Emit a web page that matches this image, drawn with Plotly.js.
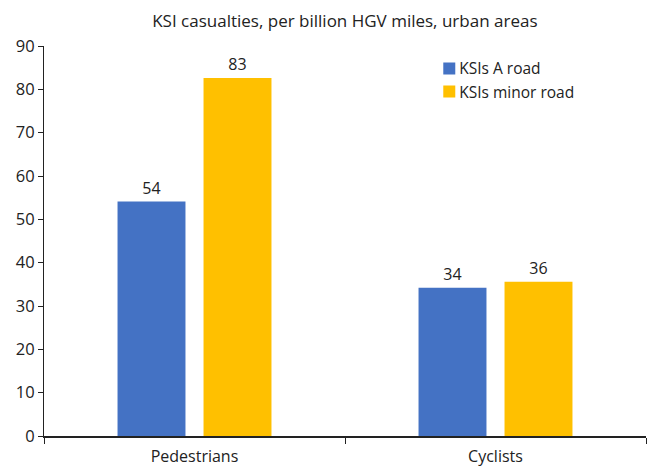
<!DOCTYPE html>
<html>
<head>
<meta charset="utf-8">
<script src="https://cdn.plot.ly/plotly-3.0.1.min.js"></script>
<style>html,body{margin:0;padding:0;background:#fff;}#chart{width:647px;height:468px;}</style>
</head>
<body>
<div id="chart"></div>
<script>
var categories = ["Pedestrians", "Cyclists"];
var seriesNames = ["KSIs A road", "KSIs minor road"];
var aRoad = [54.1, 34.2];
var minorRoad = [82.6, 35.6];
var yTicks = [0, 10, 20, 30, 40, 50, 60, 70, 80, 90];

var fam = "Open Sans, Noto Sans, sans-serif";
var font = {family: fam, color: "#222", size: 16};

var traces = [
  {type: "bar", name: seriesNames[0], x: categories, y: aRoad,
   marker: {color: "#4472C4"}, text: aRoad, texttemplate: "%{y:.0f}",
   textposition: "outside", cliponaxis: false, textfont: {family: fam, size: 16, color: "#222"}},
  {type: "bar", name: seriesNames[1], x: categories, y: minorRoad,
   marker: {color: "#FFC000"}, text: minorRoad, texttemplate: "%{y:.0f}",
   textposition: "outside", cliponaxis: false, textfont: {family: fam, size: 16, color: "#222"}}
];

var layout = {
  width: 647, height: 468,
  margin: {l: 44, r: 1, t: 46, b: 32},
  paper_bgcolor: "#fff", plot_bgcolor: "#fff",
  font: font,
  title: {text: "KSI casualties, per billion HGV miles, urban areas", x: 0.533, xanchor: "center", y: 0.955, yanchor: "middle", font: {family: fam, size: 17, color: "#222"}},
  barmode: "group", bargap: 0.4286, bargroupgap: 0.21,
  showlegend: true,
  legend: {x: 0.64, y: 0.985, xanchor: "left", yanchor: "top", bgcolor: "rgba(0,0,0,0)", font: {family: fam, size: 15.5, color: "#222"}, itemwidth: 30, tracegroupgap: 0},
  xaxis: {showline: true, linecolor: "#222", linewidth: 1.5, ticks: "outside", tickson: "boundaries", ticklen: 6, tickcolor: "#222", showgrid: false, zeroline: false, tickfont: {size: 16}, ticklabelstandoff: 5},
  yaxis: {range: [0, 90], tickvals: yTicks, showline: true, linecolor: "#222", linewidth: 1, ticks: "outside", ticklen: 5, tickcolor: "#222", showgrid: false, zeroline: false, tickfont: {size: 16.5}}
};

Plotly.newPlot("chart", traces, layout, {displayModeBar: false, staticPlot: true}).then(function (gd) {
  gd.querySelectorAll(".legend .legendtext").forEach(function (t) { t.setAttribute("x", 30); });
});
</script>
</body>
</html>
